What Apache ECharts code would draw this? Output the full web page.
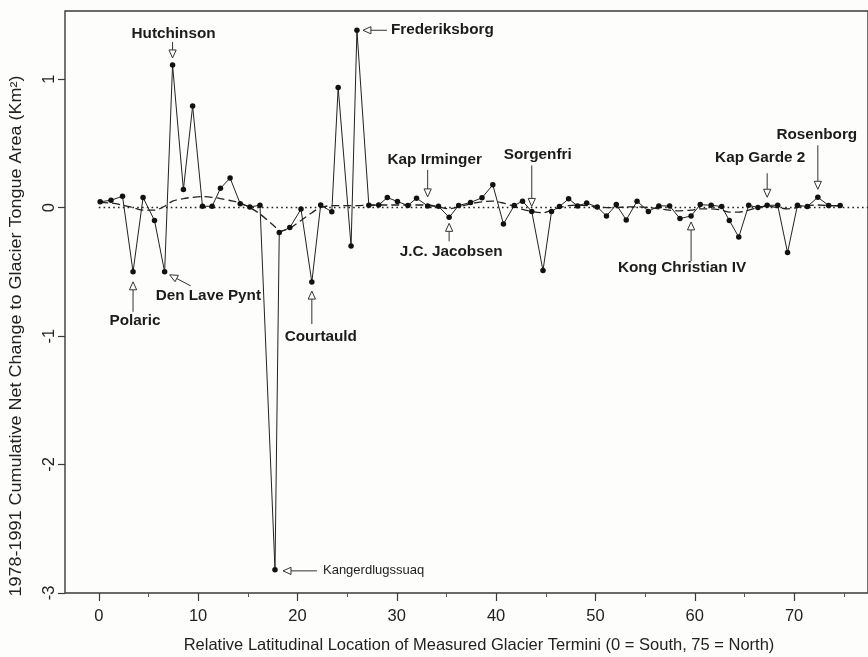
<!DOCTYPE html>
<html><head><meta charset="utf-8">
<script src="https://cdn.jsdelivr.net/npm/echarts@6/dist/echarts.min.js"></script>
<style>html,body{margin:0;padding:0;background:#fdfdfc}#c{width:868px;height:657px}</style>
</head><body><div id="c"></div>
<script>
// ---- data ----
const xs = [0.14,1.23,2.39,3.45,4.46,5.61,6.63,7.43,8.52,9.45,
  10.44,11.41,12.25,13.22,14.24,15.21,16.23,17.74,18.17,19.23,
  20.36,21.45,22.34,23.46,24.10,25.40,25.99,27.19,28.18,29.05,
  30.07,31.12,31.99,33.11,34.20,35.27,36.23,37.43,38.58,39.67,
  40.74,41.83,42.66,43.59,44.72,45.58,46.38,47.30,48.20,49.12,
  50.18,51.11,52.10,53.10,54.19,55.33,56.38,57.47,58.51,59.63,
  60.55,61.65,62.71,63.48,64.43,65.43,66.36,67.29,68.35,69.34,
  70.34,71.33,72.39,73.48,74.64];
const netChange = [0.045,0.057,0.088,-0.50,0.078,-0.10,-0.50,1.11,0.14,0.79,
  0.01,0.01,0.15,0.23,0.03,0.005,0.018,-2.82,-0.195,-0.156,
  -0.012,-0.58,0.02,-0.033,0.935,-0.30,1.38,0.018,0.02,0.078,
  0.047,0.016,0.073,0.013,0.01,-0.076,0.016,0.04,0.076,0.177,
  -0.127,0.016,0.05,-0.03,-0.49,-0.03,0.008,0.068,0.013,0.035,
  0.005,-0.065,0.023,-0.096,0.05,-0.03,0.013,0.013,-0.086,-0.065,
  0.023,0.018,0.008,-0.10,-0.23,0.018,0.0,0.018,0.018,-0.35,
  0.018,0.008,0.08,0.016,0.016];
const smoothed = [0.04,0.035,0.02,0.0,-0.02,-0.02,0.01,0.05,0.07,0.08,
  0.085,0.08,0.07,0.055,0.035,0.0,-0.05,-0.15,-0.185,-0.16,
  -0.10,-0.04,0.0,0.015,0.015,0.015,0.015,0.02,0.02,0.02,
  0.02,0.02,0.02,0.02,0.005,-0.01,0.005,0.03,0.045,0.05,
  0.035,0.01,-0.015,-0.03,-0.04,-0.02,0.0,0.015,0.02,0.015,
  0.005,0.0,0.0,0.005,0.005,0.0,-0.01,-0.02,-0.025,-0.02,
  -0.01,-0.01,-0.02,-0.035,-0.035,-0.02,0.0,0.01,0.0,-0.01,
  0.0,0.015,0.02,0.015,0.01];
const xTicks = [0,10,20,30,40,50,60,70];
const xMinorTicks = [5,15,25,35,45,55,65,75];
const yTicks = [-3,-2,-1,0,1];
const zeroLine = [0, 80];
const glacierNames = ['Polaric','Den Lave Pynt','Hutchinson','Kangerdlugssuaq','Courtauld','Frederiksborg',
  'Kap Irminger','J.C. Jacobsen','Sorgenfri','Kong Christian IV','Kap Garde 2','Rosenborg'];
const glacierIndex = [3,6,7,17,21,26,33,35,43,59,67,72];
const xTitle = 'Relative Latitudinal Location of Measured Glacier Termini (0 = South, 75 = North)';
const yTitle = '1978-1991 Cumulative Net Change to Glacier Tongue Area (Km²)';

// ---- layout (pixel offsets from the labelled point) ----
const annLayout = {
  'Polaric':          {tip:[0,10],  tail:[0,40],  lab:[2,49],   align:'center'},
  'Den Lave Pynt':    {tip:[5,3],   tail:[26,14], lab:[-9,24],  align:'left'},
  'Hutchinson':       {tip:[0,-7],  tail:[0,-23], lab:[1,-31],  align:'center'},
  'Kangerdlugssuaq':  {tip:[8,1],   tail:[42,1],  lab:[48,1],   align:'left', weight:'normal', size:13},
  'Courtauld':        {tip:[0,9],   tail:[0,42],  lab:[9,55],   align:'center'},
  'Frederiksborg':    {tip:[6,0],   tail:[30,0],  lab:[34,0],   align:'left'},
  'Kap Irminger':     {tip:[0,-9],  tail:[0,-36], lab:[7,-46],  align:'center'},
  'J.C. Jacobsen':    {tip:[0,6],   tail:[0,24],  lab:[2,34],   align:'center'},
  'Sorgenfri':        {tip:[0,-5],  tail:[0,-46], lab:[6,-57],  align:'center'},
  'Kong Christian IV':{tip:[0,6],   tail:[0,45],  lab:[-9,52],  align:'center'},
  'Kap Garde 2':      {tip:[0,-8],  tail:[0,-32], lab:[-7,-47], align:'center'},
  'Rosenborg':        {tip:[0,-8],  tail:[0,-52], lab:[-1,-63], align:'center'}
};

const INK = '#1c1c1c';
const FONT = '"Liberation Sans", Arial, Helvetica, sans-serif';
const chart = echarts.init(document.getElementById('c'), null, {renderer:'canvas'});
const XMIN = -3.4, XMAX = 77.44;

const option = {
  backgroundColor: '#fdfdfc',
  animation: false,
  grid: {left:65, top:11, right:-10, bottom:64, show:true, borderColor:'#3a3a3a', borderWidth:1.4, backgroundColor:'transparent'},
  xAxis: [
    {type:'value', min:XMIN, max:XMAX, position:'bottom',
     axisLine:{show:false, onZero:false}, splitLine:{show:false},
     axisTick:{show:true, customValues:xTicks, length:8, lineStyle:{color:'#3a3a3a', width:1.2}},
     axisLabel:{show:true, customValues:xTicks, margin:15, color:'#222', fontSize:16.5, fontFamily:FONT}},
    {type:'value', min:XMIN, max:XMAX, position:'bottom', gridIndex:0,
     axisLine:{show:false, onZero:false}, splitLine:{show:false},
     axisTick:{show:true, customValues:xMinorTicks, length:4, lineStyle:{color:'#555', width:1}},
     axisLabel:{show:false}}
  ],
  yAxis: {type:'value', min:-3, max:1.53,
    axisLine:{show:false, onZero:false}, splitLine:{show:false},
    axisTick:{show:true, customValues:yTicks, length:7, lineStyle:{color:'#3a3a3a', width:1.2}},
    axisLabel:{show:true, customValues:yTicks, rotate:90, margin:7, color:'#222', fontSize:16.5, fontFamily:FONT}},
  series: [
    {type:'line', name:'zero', data:zeroLine.map(v=>[v,0]), symbol:'none', clip:true,
     lineStyle:{color:'#222', width:1.6, type:[1.6,3.2], cap:'butt'}, silent:true},
    {type:'line', name:'smooth', data:xs.map((x,i)=>[x,smoothed[i]]), symbol:'none', smooth:0.3,
     lineStyle:{color:'#222', width:1.3, type:[8,4]}, silent:true},
    {type:'line', name:'net', data:xs.map((x,i)=>[x,netChange[i]]), symbol:'circle', symbolSize:5.5,
     lineStyle:{color:'#222', width:1}, itemStyle:{color:'#111'}, silent:true}
  ]
};
chart.setOption(option);

function arrowGraphics(p, L) {
  const tip = [p[0]+L.tip[0], p[1]+L.tip[1]];
  const tail = [p[0]+L.tail[0], p[1]+L.tail[1]];
  let dx = tip[0]-tail[0], dy = tip[1]-tail[1];
  const len = Math.hypot(dx,dy); dx/=len; dy/=len;
  const hl = 8, hw = 3.6;
  const base = [tip[0]-dx*hl, tip[1]-dy*hl];
  const nx = -dy, ny = dx;
  return [
    {type:'line', shape:{x1:tail[0], y1:tail[1], x2:base[0], y2:base[1]}, style:{stroke:'#333', lineWidth:1}},
    {type:'polygon', shape:{points:[tip,[base[0]+nx*hw, base[1]+ny*hw],[base[0]-nx*hw, base[1]-ny*hw]]},
     style:{fill:'#fdfdfc', stroke:'#333', lineWidth:1}}
  ];
}

const g = [];
glacierNames.forEach((name, k) => {
  const i = glacierIndex[k];
  const p = chart.convertToPixel({gridIndex:0}, [xs[i], netChange[i]]);
  const L = annLayout[name];
  g.push(...arrowGraphics(p, L));
  g.push({type:'text', x:p[0]+L.lab[0], y:p[1]+L.lab[1],
    style:{text:name, fill:INK, font:(L.weight||'bold')+' '+(L.size||15.3)+'px '+FONT, align:L.align, verticalAlign:'middle'}});
});
g.push({type:'text', x:479, y:645, style:{text:xTitle, fill:'#222', font:'16.5px '+FONT, align:'center', verticalAlign:'middle'}});
g.push({type:'text', x:16, y:336, rotation:Math.PI/2, scaleX:1.09, style:{text:yTitle, fill:'#222', font:'16.5px '+FONT, align:'center', verticalAlign:'middle'}});
chart.setOption({graphic: g});
</script></body></html>
